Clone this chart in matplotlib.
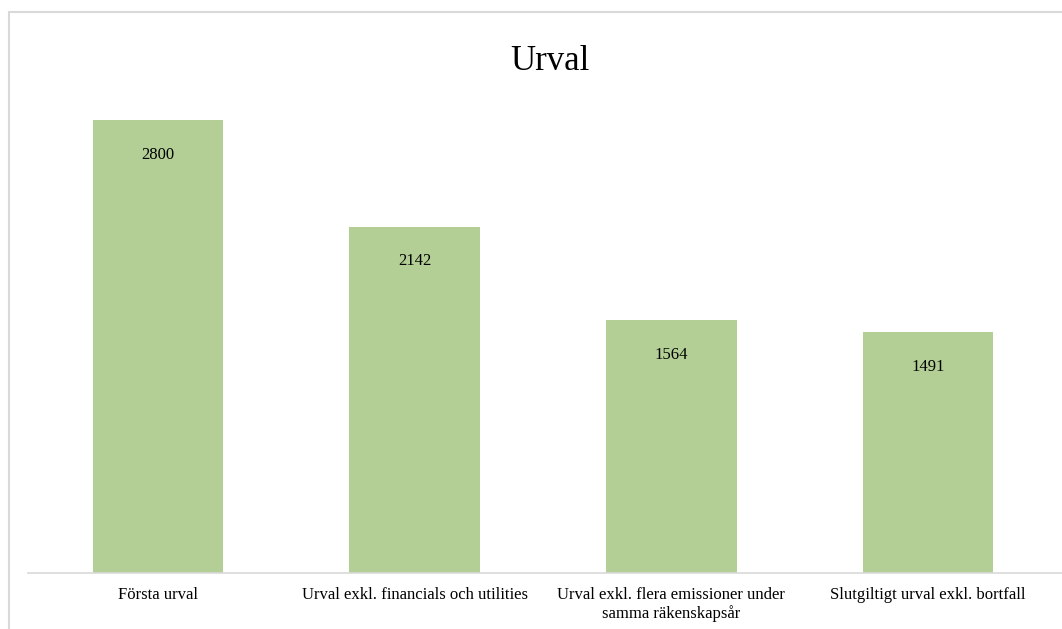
import matplotlib.pyplot as plt
from matplotlib.patches import Rectangle

plt.rcParams['font.family'] = ['Liberation Serif', 'DejaVu Serif']

# Data
categories = ['Första urval',
              'Urval exkl. financials och utilities',
              'Urval exkl. flera emissioner under\nsamma räkenskapsår',
              'Slutgiltigt urval exkl. bortfall']
values = [2800, 2142, 1564, 1491]

fig = plt.figure(figsize=(10.62, 6.29), dpi=100)

# light grey frame around the chart (right/bottom edges fall outside the image)
fig.patches.append(Rectangle((9 / 1062, -0.05), 1.1, 1 - 11.5 / 629 + 0.05,
                             transform=fig.transFigure, fill=False,
                             edgecolor='#d9d9d9', linewidth=1.5))

ax = fig.add_axes([28 / 1062, 56 / 629, (1062 - 28) / 1062, (573 - 88) / 629])
x = range(len(categories))
bars = ax.bar(x, values, width=0.51, color='#b3cf95')
ax.set_xlim(-0.5065, 3.522)
ax.set_ylim(0, 3000)

for b, v in zip(bars, values):
    ax.text(b.get_x() + b.get_width() / 2, v - 215, str(v),
            ha='center', va='center', fontsize=12)

ax.set_xticks(list(x))
ax.set_xticklabels(categories, fontsize=12, linespacing=1.15)
ax.tick_params(axis='x', length=0, pad=10)
ax.set_yticks([])
for s in ['top', 'right', 'left']:
    ax.spines[s].set_visible(False)
ax.spines['bottom'].set_color('#d9d9d9')
ax.spines['bottom'].set_linewidth(1.2)

fig.text(550 / 1062, 1 - 61 / 629, 'Urval', ha='center', va='center', fontsize=25)

fig.savefig('out.png', dpi=100)
